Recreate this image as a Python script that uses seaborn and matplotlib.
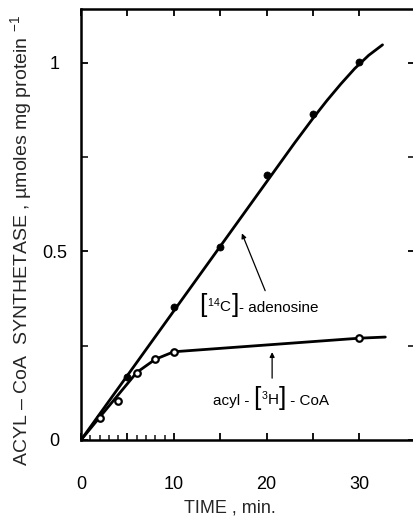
import numpy as np
import pandas as pd
import matplotlib
matplotlib.use("Agg")
import matplotlib.pyplot as plt
import seaborn as sns
from matplotlib.ticker import FixedLocator, FixedFormatter
from matplotlib.offsetbox import TextArea, HPacker, AnnotationBbox

# ---- data ----
c14_time = [5, 10, 15, 20, 25, 30]
c14_value = [0.168, 0.353, 0.511, 0.703, 0.864, 1.003]
c14_curve_time = [0, 23, 25, 26.5, 28, 29.5, 31, 32.5]
c14_curve_value = [0, 0.787, 0.853, 0.900, 0.944, 0.985, 1.020, 1.048]

acyl_time = [2, 4, 6, 8, 10, 30]
acyl_value = [0.059, 0.104, 0.179, 0.214, 0.233, 0.270]
acyl_curve_time = [0, 2, 6, 8, 10, 30, 32.8]
acyl_curve_value = [0, 0.060, 0.179, 0.214, 0.234, 0.270, 0.273]

x_major = [0, 5, 10, 15, 20, 25, 30]
x_labels = ["0", "", "10", "", "20", "", "30"]
x_minor = [1, 2, 3, 4, 6, 7, 8, 9]
y_major = [0, 0.5, 1]
y_labels = ["0", "0.5", "1"]
y_minor = [0.25, 0.75]

sns.set_theme(style="ticks")
plt.rcParams["font.family"] = ["Liberation Sans", "DejaVu Sans"]
plt.rcParams["mathtext.fontset"] = "custom"
plt.rcParams["mathtext.rm"] = "Liberation Sans"
plt.rcParams["mathtext.it"] = "Liberation Sans:italic"
plt.rcParams["mathtext.bf"] = "Liberation Sans:bold"

W, H = 413, 518
fig = plt.figure(figsize=(W / 100, H / 100), dpi=100)
ax = fig.add_axes([81 / W, (H - 440) / H, (415 - 81) / W, (440 - 9) / H])

c14_pts = pd.DataFrame({"t": c14_time, "v": c14_value})
c14_line = pd.DataFrame({"t": c14_curve_time, "v": c14_curve_value})
acyl_pts = pd.DataFrame({"t": acyl_time, "v": acyl_value})
acyl_line = pd.DataFrame({"t": acyl_curve_time, "v": acyl_curve_value})

sns.lineplot(data=c14_line, x="t", y="v", ax=ax, color="black", lw=2.0,
             sort=False, estimator=None)
sns.lineplot(data=acyl_line, x="t", y="v", ax=ax, color="black", lw=2.0,
             sort=False, estimator=None)
sns.scatterplot(data=c14_pts, x="t", y="v", ax=ax, color="black", s=26,
                edgecolor="black", linewidth=0.5, zorder=5)
sns.scatterplot(data=acyl_pts, x="t", y="v", ax=ax, color="white", s=22,
                edgecolor="black", linewidth=1.6, zorder=5)

ax.set_xlim(0, 36)
ax.set_ylim(0, 1.143)

for s in ax.spines.values():
    s.set_linewidth(1.8)
    s.set_color("black")

ax.xaxis.set_major_locator(FixedLocator(x_major))
ax.xaxis.set_major_formatter(FixedFormatter(x_labels))
ax.xaxis.set_minor_locator(FixedLocator(x_minor))
ax.yaxis.set_major_locator(FixedLocator(y_major))
ax.yaxis.set_major_formatter(FixedFormatter(y_labels))
ax.yaxis.set_minor_locator(FixedLocator(y_minor))

ax.tick_params(axis="both", which="major", direction="in", length=5, width=1.3,
               colors="black", labelsize=13, top=True, right=True)
ax.tick_params(axis="x", which="minor", direction="in", length=3.5, width=1.2,
               bottom=True, top=False)
ax.tick_params(axis="y", which="minor", direction="in", length=5, width=1.3,
               left=True, right=True)
ax.tick_params(axis="x", which="major", pad=26)
ax.tick_params(axis="y", which="major", pad=19)
for lab in ax.get_yticklabels():
    lab.set_horizontalalignment("center")

ax.set_xlabel("TIME , min.", fontsize=13, va="center")
ax.xaxis.set_label_coords(0.446, -0.158)
ax.set_ylabel(r"ACYL – CoA  SYNTHETASE , µmoles mg protein $^{-1}$",
              fontsize=14, va="center")
ax.yaxis.set_label_coords(-0.180, 0.462)


def bracket_label(pre, inner, post, pos):
    parts = []
    if pre:
        parts.append(TextArea(pre, textprops=dict(fontsize=11, color="black")))
    parts.append(TextArea("[", textprops=dict(fontsize=19, color="black")))
    parts.append(TextArea(inner, textprops=dict(fontsize=11, color="black")))
    parts.append(TextArea("]", textprops=dict(fontsize=19, color="black")))
    parts.append(TextArea(post, textprops=dict(fontsize=11, color="black")))
    box = HPacker(children=parts, align="baseline", pad=0, sep=0)
    ab = AnnotationBbox(box, pos, xycoords="data", frameon=False,
                        box_alignment=(0.5, 0.5), pad=0)
    ax.add_artist(ab)


bracket_label("", r"$^{14}\mathrm{C}$", "- adenosine", (19.2, 0.358))
bracket_label("acyl - ", r"$^{3}\mathrm{H}$", " - CoA", (20.5, 0.111))

arrow = dict(arrowstyle="-|>", color="black", lw=0.9, mutation_scale=7,
             shrinkA=0, shrinkB=0)
ax.annotate("", xy=(17.34, 0.548), xytext=(19.85, 0.396), arrowprops=arrow)
ax.annotate("", xy=(20.6, 0.233), xytext=(20.6, 0.164), arrowprops=arrow)

fig.savefig("out.png", dpi=100)
